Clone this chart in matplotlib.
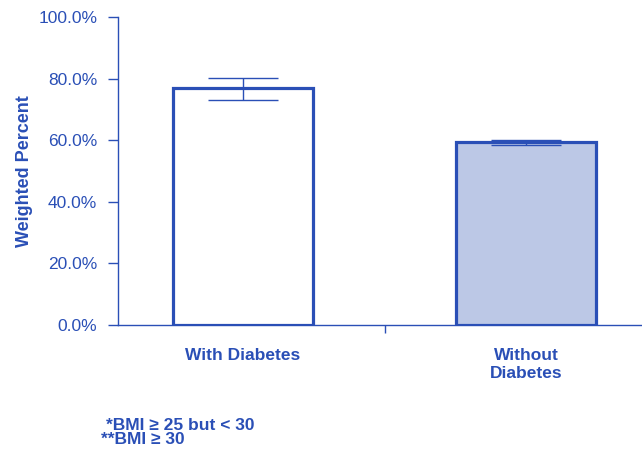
import matplotlib.pyplot as plt
from matplotlib.ticker import FuncFormatter

categories = ["With Diabetes", "Without\nDiabetes"]
values = [77.0, 59.4]
err_low = [4.0, 0.8]
err_high = [3.2, 0.6]
yticks = [0, 20, 40, 60, 80, 100]
footnotes = ["*BMI \u2265 25 but < 30", "**BMI \u2265 30"]

blue = "#2a4fb6"
fills = ["white", "#bcc8e6"]

plt.rcParams["font.family"] = ["Liberation Sans", "DejaVu Sans"]

fig = plt.figure(figsize=(6.42, 4.5), dpi=100)
ax = fig.add_axes([118 / 642, 1 - 325 / 450, 1 - 118 / 642, (325 - 17) / 450])

x = list(range(len(categories)))
ax.bar(x, values, width=0.495, color=fills, edgecolor=blue, linewidth=2.3, zorder=2)
ax.errorbar(x, values, yerr=[err_low, err_high], fmt="none", ecolor=blue,
            elinewidth=1.0, capsize=25, capthick=1.0, zorder=3)

ax.set_xlim(-0.442, 1.41)
ax.set_ylim(0, 100)
ax.set_yticks(yticks)
ax.yaxis.set_major_formatter(FuncFormatter(lambda v, _: f"{v:.1f}%"))
ax.tick_params(axis="y", colors=blue, labelcolor=blue, labelsize=12.5,
               length=7, width=1.0, direction="out", pad=8)

ax.set_xticks([0.5])
ax.set_xticklabels([""])
ax.tick_params(axis="x", colors=blue, length=6, width=1.0, direction="out")
for xi, lab in zip(x, categories):
    ax.text(xi, -7.5, lab, ha="center", va="top", color=blue, fontsize=12.5,
            fontweight="bold", transform=ax.transData, linespacing=1.2)

for side in ["top", "right"]:
    ax.spines[side].set_visible(False)
for side in ["left", "bottom"]:
    ax.spines[side].set_color(blue)
    ax.spines[side].set_linewidth(1.0)

ax.set_ylabel("Weighted Percent", color=blue, fontsize=13, fontweight="bold",
              labelpad=4)

fig.text(106 / 642, 1 - 425 / 450, footnotes[0], color=blue, fontsize=12.5,
         fontweight="bold", va="center", ha="left")
fig.text(101 / 642, 1 - 440 / 450, footnotes[1], color=blue, fontsize=12.5,
         fontweight="bold", va="center", ha="left")

fig.savefig("out.png", dpi=100)
